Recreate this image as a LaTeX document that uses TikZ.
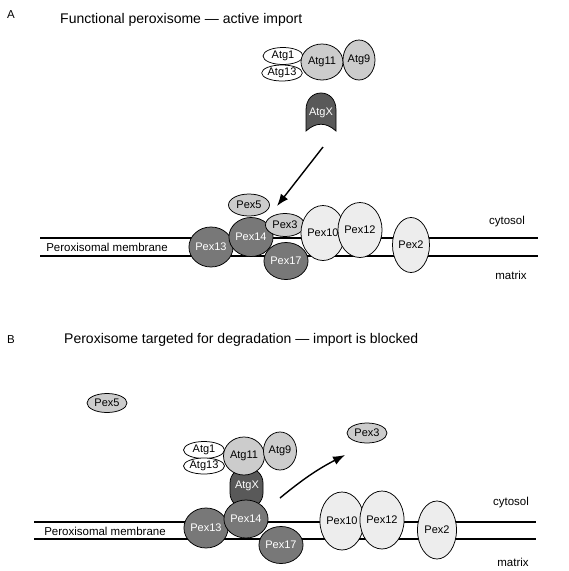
\documentclass[tikz,border=0pt]{standalone}
\usepackage{fontspec}
\setmainfont{Liberation Sans}
\usetikzlibrary{shapes.geometric,arrows.meta}
\definecolor{pdark}{gray}{0.47}
\definecolor{pxdark}{gray}{0.35}
\definecolor{pmid}{gray}{0.80}
\definecolor{plight}{gray}{0.93}
\begin{document}
\begin{tikzpicture}[x=1pt,y=-1pt,
  prot/.style={ellipse, draw=black, line width=0.75pt, inner sep=0pt, font=\fontsize{11}{12}\selectfont},
  dk/.style={prot, fill=pdark, text=white},
  md/.style={prot, fill=pmid},
  lt/.style={prot, fill=plight},
  wh/.style={prot, fill=white},
  sz/.style 2 args={minimum width=#1pt, minimum height=#2pt},
  membrane/.style={line width=1.8pt},
  arr/.style={line width=1.4pt, -{Latex[length=12pt,width=9pt]}},
  lbl/.style={font=\fontsize{11.5}{13}\selectfont, inner sep=0pt},
  ttl/.style={font=\fontsize{14}{16}\selectfont, anchor=west, inner sep=0pt},
  xlabel/.style={font=\fontsize{11.5}{13}\selectfont, inner sep=0pt}
]
\useasboundingbox (0,0) rectangle (569,571);
\fill[white] (0,0) rectangle (569,571);

% ---------------- Panel A ----------------
\node[xlabel] (labA) at (11,15) {A};
\node[ttl] (titA) at (60,20) {Functional peroxisome — active import};

\coordinate (mAtl) at (40,238); \coordinate (mAtr) at (538,238);
\coordinate (mAbl) at (40,256); \coordinate (mAbr) at (538,256);
\draw[membrane] (mAtl) -- (mAtr);
\draw[membrane] (mAbl) -- (mAbr);
\node[lbl] (memA) at (107,247) {Peroxisomal membrane};
\node[lbl] (cytA) at (507,222) {cytosol};
\node[lbl] (matA) at (511,275) {matrix};

\node[dk, sz={42}{40}] (pex13A) at (211,247) {Pex13};
\node[dk, sz={41}{39}] (pex14A) at (251,237) {Pex14};
\node[md, sz={41}{22}] (pex5A) at (249,205) {Pex5};
\node[md, sz={39}{23}] (pex3A) at (285,225) {Pex3};
\node[dk, sz={41}{37}] (pex17A) at (286,261) {Pex17};
\node[lt, sz={37}{55}] (pex10A) at (323,233) {Pex10};
\node[lt, sz={36}{55}] (pex12A) at (360,230) {Pex12};
\node[lt, sz={37}{55}] (pex2A) at (411,245) {Pex2};

\node[wh, sz={40}{17}] (atg1A) at (283,56) {Atg1};
\node[wh, sz={40}{16}] (atg13A) at (282,73) {Atg13};
\node[md, sz={42}{36}] (atg11A) at (322,62) {Atg11};
\node[md, sz={32}{40}] (atg9A) at (359,60) {Atg9};

\draw[line width=0.75pt, fill=pxdark] (306,131) -- (306,110)
  .. controls (306,99) and (313,93) .. (321,93)
  .. controls (329,93) and (336,99) .. (336,110) -- (336,131)
  .. controls (326,122) and (316,122) .. (306,131) -- cycle;
\node[prot, draw=none, text=white] (atgxA) at (321,113) {AtgX};

\coordinate (arrAs) at (323,147);
\coordinate (arrAe) at (277,206);
\draw[arr] (arrAs) -- (arrAe);

% ---------------- Panel B ----------------
\node[xlabel] (labB) at (11,340) {B};
\node[ttl] (titB) at (64,340) {Peroxisome targeted for degradation — import is blocked};

\coordinate (mBtl) at (34,522); \coordinate (mBtr) at (536,522);
\coordinate (mBbl) at (34,539); \coordinate (mBbr) at (536,539);
\draw[membrane] (mBtl) -- (mBtr);
\draw[membrane] (mBbl) -- (mBbr);
\node[lbl] (memB) at (105,531) {Peroxisomal membrane};
\node[lbl] (cytB) at (511,503) {cytosol};
\node[lbl] (matB) at (513,562) {matrix};

\node[md, sz={40}{19}] (pex5B) at (107,403) {Pex5};
\node[md, sz={40}{20}] (pex3B) at (367,433) {Pex3};

\draw[line width=0.75pt, fill=pxdark, rounded corners=15pt] (230,468) rectangle (263,508);
\node[prot, draw=none, text=white] (atgxB) at (247,486) {AtgX};

\node[wh, sz={41}{17}] (atg1B) at (204,450) {Atg1};
\node[wh, sz={41}{16}] (atg13B) at (204,466) {Atg13};
\node[md, sz={41}{38}] (atg11B) at (244,456) {Atg11};
\node[md, sz={33}{38}] (atg9B) at (280,451) {Atg9};

\node[dk, sz={42}{40}] (pex13B) at (206,528) {Pex13};
\node[dk, sz={41}{38}] (pex14B) at (246,519) {Pex14};
\node[dk, sz={42}{37}] (pex17B) at (281,545) {Pex17};
\node[lt, sz={39}{58}] (pex10B) at (342,521) {Pex10};
\node[lt, sz={39}{58}] (pex12B) at (382,520) {Pex12};
\node[lt, sz={39}{58}] (pex2B) at (437,530) {Pex2};

\coordinate (arrBs) at (280,498);
\coordinate (arrBe) at (345,455);
\draw[arr] (arrBs) to[bend left=6] (arrBe);
\end{tikzpicture}
\end{document}
